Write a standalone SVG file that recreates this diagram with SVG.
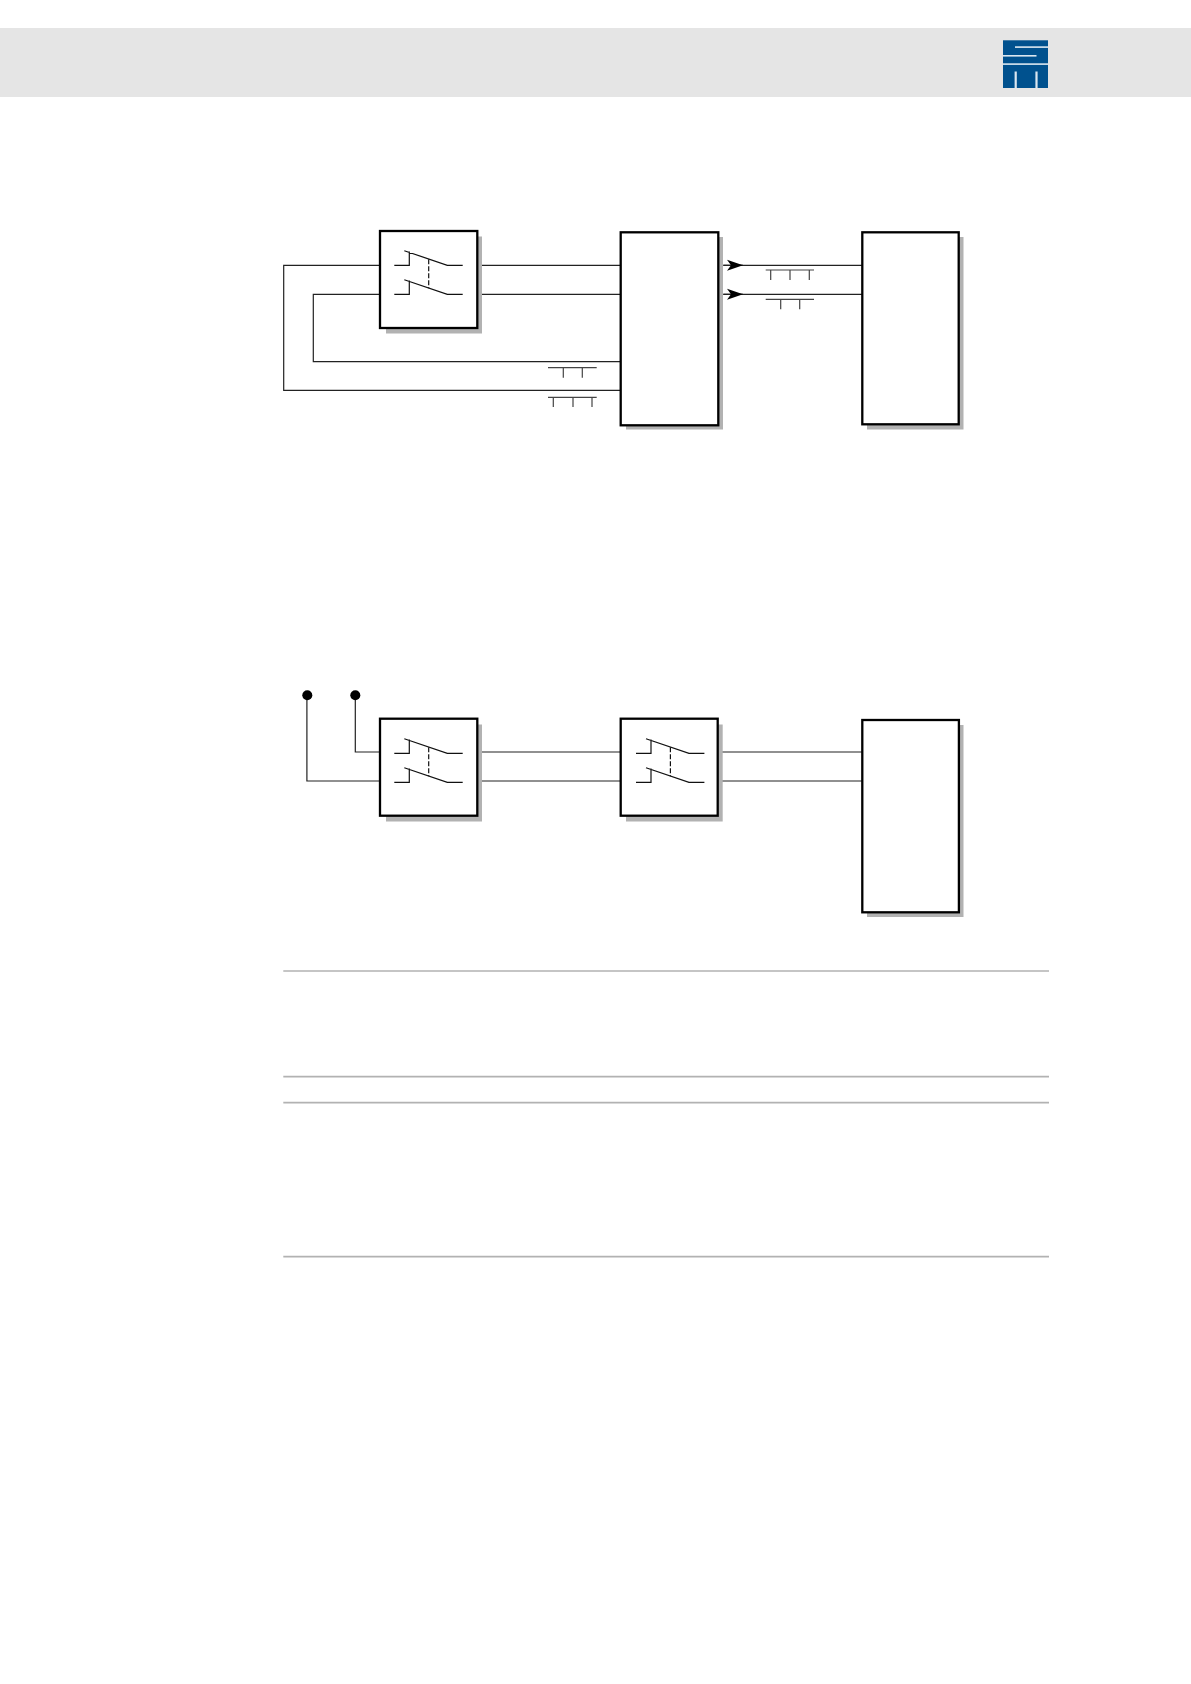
<svg xmlns="http://www.w3.org/2000/svg" xmlns:xlink="http://www.w3.org/1999/xlink" width="1191" height="1684" viewBox="0 0 1191 1684">
<style>
.box{fill:#fff;stroke:#000;stroke-width:2.3}
.shadow{fill:#b2b2b2}
.wire{fill:none;stroke:#222;stroke-width:1.2}
.mark{fill:none;stroke:#444;stroke-width:1.2}
.sw{fill:none;stroke:#111;stroke-width:1.2}
.dash{fill:none;stroke:#111;stroke-width:1.2;stroke-dasharray:5 2}
.rule{stroke:#b2b2b2;stroke-width:1.7}
.logo-cut{fill:#dbe7f0}
</style>
<defs>
<marker id="arrow" markerUnits="userSpaceOnUse" markerWidth="17" markerHeight="12" refX="16" refY="6" orient="auto">
<path d="M0,0.5 L16,6 L0,11.5 L4,6 Z" fill="#000"/>
</marker>
<g id="switch">
<path class="sw" d="M394.3,265.3H409.3V251.5M404.3,250.7L447.3,265.3H462.7"/>
<path class="sw" d="M394.3,294.3H409.3V280.5M404.3,279.7L447.3,294.3H462.7"/>
<path class="dash" d="M428.7,259.3V288.3"/>
</g>
</defs>
<rect width="1191" height="1684" fill="#fff"/>
<g id="header">
<rect x="0" y="28" width="1191" height="69" fill="#e5e5e5"/>
<g id="logo">
<rect x="1003" y="40.3" width="45" height="47.7" fill="#00518e"/>
<rect class="logo-cut" x="1015" y="46.3" width="33" height="1.6"/>
<rect class="logo-cut" x="1003" y="55" width="33.5" height="1.6"/>
<rect class="logo-cut" x="1003" y="63.3" width="45" height="1.6"/>
<rect class="logo-cut" x="1014.6" y="71.5" width="2.2" height="16.5"/>
<rect class="logo-cut" x="1035.4" y="71.5" width="2.2" height="16.5"/>
</g>
</g>
<g id="connectors">
<path class="wire" d="M380,265.3H283.7V390.3H620.7"/>
<path class="wire" d="M380,294.3H313.3V361.7H620.7"/>
<path class="wire" d="M478,265.3H620.7"/>
<path class="wire" d="M478,294.3H620.7"/>
<path class="wire" d="M862.3,265.3H723.3"/>
<path class="wire" d="M862.3,294.3H723.3"/>
<path class="wire" d="M723.3,265.3H743" marker-end="url(#arrow)"/>
<path class="wire" d="M723.3,294.3H743" marker-end="url(#arrow)"/>
<path class="wire" d="M380,752H355.3V695.3"/>
<path class="wire" d="M380,781H306.9V695.3"/>
<path class="wire" d="M478,752H620.7"/>
<path class="wire" d="M478,781H620.7"/>
<path class="wire" d="M718,752H862"/>
<path class="wire" d="M718,781H862"/>
</g>
<g id="bus-marks">
<path class="mark" d="M548,367.7H596.7M563.3,367.7V377.7M582.3,367.7V377.7"/>
<path class="mark" d="M548,397.3H596.7M553.3,397.3V407M573,397.3V407M592,397.3V407"/>
<path class="mark" d="M765.7,270H814M770.7,270V280M790,270V280M809.3,270V280"/>
<path class="mark" d="M765.7,299.3H814M780.7,299.3V309.3M799.7,299.3V309.3"/>
</g>
<g id="node-switch-a">
<rect class="shadow" x="386" y="236.5" width="96" height="97"/>
<rect class="box" x="380" y="231" width="97.3" height="97"/>
<use href="#switch" xlink:href="#switch"/>
</g>
<g id="node-controller">
<rect class="shadow" x="626" y="237" width="97" height="192.5"/>
<rect class="box" x="620.7" y="232.3" width="97.6" height="193"/>
</g>
<g id="node-device-a">
<rect class="shadow" x="867" y="237" width="96.5" height="192.5"/>
<rect class="box" x="862.3" y="232.3" width="96.4" height="192"/>
</g>
<g id="terminals">
<circle cx="307.3" cy="695.3" r="5" fill="#000"/>
<circle cx="355.3" cy="695.3" r="5" fill="#000"/>
</g>
<g id="node-switch-b">
<rect class="shadow" x="386" y="724.5" width="96" height="97"/>
<rect class="box" x="380" y="718.7" width="97.3" height="97"/>
<use href="#switch" xlink:href="#switch" transform="translate(0,488)"/>
</g>
<g id="node-switch-c">
<rect class="shadow" x="626" y="724.5" width="96.7" height="97"/>
<rect class="box" x="620.7" y="718.7" width="97" height="97"/>
<use href="#switch" xlink:href="#switch" transform="translate(241.7,488)"/>
</g>
<g id="node-device-b">
<rect class="shadow" x="867" y="725" width="96.5" height="192"/>
<rect class="box" x="862.3" y="720" width="96.6" height="192.3"/>
</g>
<g id="rules">
<line class="rule" x1="283.3" y1="971" x2="1049" y2="971"/>
<line class="rule" x1="283.3" y1="1076.7" x2="1049" y2="1076.7"/>
<line class="rule" x1="283.3" y1="1102.7" x2="1049" y2="1102.7"/>
<line class="rule" x1="283.3" y1="1256.7" x2="1049" y2="1256.7"/>
</g>
</svg>
